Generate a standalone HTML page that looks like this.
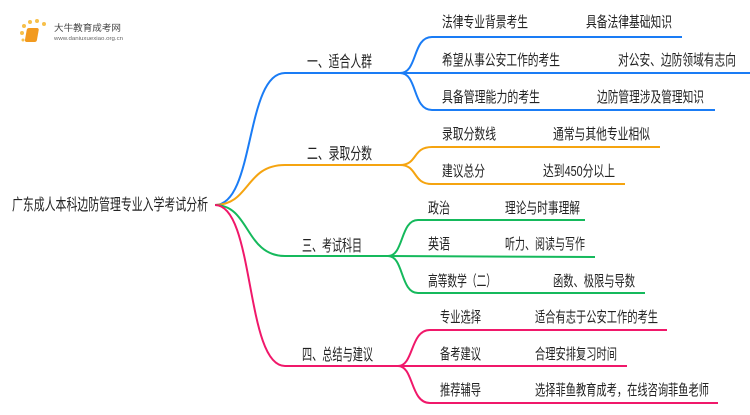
<!DOCTYPE html>
<html><head><meta charset="utf-8"><style>
body{margin:0;width:750px;height:410px;background:#fff;overflow:hidden;font-family:"Liberation Sans","Noto Sans CJK SC",sans-serif;}
svg text{font-family:"Liberation Sans","Noto Sans CJK SC",sans-serif;font-size:15px;fill:#222;}
</style></head><body>
<svg width="750" height="410" xmlns="http://www.w3.org/2000/svg">
<g>
<circle cx="24" cy="26" r="2" fill="#f7c04a"/><circle cx="30" cy="22" r="2" fill="#f7c04a"/><circle cx="37" cy="21" r="2" fill="#f7c04a"/><circle cx="44" cy="24" r="2" fill="#f7c04a"/><circle cx="22" cy="33" r="2" fill="#f7c04a"/><circle cx="23" cy="40" r="1.5" fill="#f7c04a"/>
<rect x="32" y="28" width="12" height="14" rx="2" fill="#f29a1f" transform="skewX(-10)"/>
<text x="54" y="31" textLength="67" lengthAdjust="spacingAndGlyphs" style="font-size:9px;fill:#444">大牛教育成考网</text>
<text x="54" y="40" textLength="69" lengthAdjust="spacingAndGlyphs" style="font-size:5px;fill:#666">www.daniuxuexiao.org.cn</text>
</g>
<text x="12" y="210" textLength="196" lengthAdjust="spacingAndGlyphs" style="font-size:16px">广东成人本科边防管理专业入学考试分析</text>
<g fill="none" stroke-width="2">
<path d="M215 205 C255 205 245 73 285 73 L400 73" stroke="#1a7cf5"/>
<path d="M215 205 C250 205 245 165 285 165 L400 165" stroke="#f5a410"/>
<path d="M215 205 C250 205 245 256 285 256 L388 256" stroke="#15b95c"/>
<path d="M215 205 C255 205 245 366 285 366 L398 366" stroke="#f0186a"/>
<path d="M400 73 C418 73 412 37 432 37 L682 37" stroke="#1a7cf5"/>
<path d="M400 73 L750 73" stroke="#1a7cf5"/>
<path d="M400 73 C418 73 412 110 432 110 L715 110" stroke="#1a7cf5"/>
<path d="M400 165 C418 165 412 147 432 147 L660 147" stroke="#f5a410"/>
<path d="M400 165 C418 165 412 184 432 184 L625 184" stroke="#f5a410"/>
<path d="M388 256 C404 256 400 220 418 220 L585 220" stroke="#15b95c"/>
<path d="M388 256 L595 257" stroke="#15b95c"/>
<path d="M388 256 C404 256 400 293 418 293 L645 293" stroke="#15b95c"/>
<path d="M398 366 C414 366 410 330 430 330 L667 330" stroke="#f0186a"/>
<path d="M398 366 L627 366" stroke="#f0186a"/>
<path d="M398 366 C414 366 410 403 430 403 L718 403" stroke="#f0186a"/>
</g>
<text x="307" y="67" textLength="65" lengthAdjust="spacingAndGlyphs" style="font-size:16px">一、适合人群</text>
<text x="307" y="159" textLength="65" lengthAdjust="spacingAndGlyphs" style="font-size:16px">二、录取分数</text>
<text x="302" y="251" textLength="60" lengthAdjust="spacingAndGlyphs" style="font-size:16px">三、考试科目</text>
<text x="302" y="360" textLength="71" lengthAdjust="spacingAndGlyphs" style="font-size:16px">四、总结与建议</text>
<text x="442" y="27" textLength="86" lengthAdjust="spacingAndGlyphs">法律专业背景考生</text><text x="586" y="27" textLength="86" lengthAdjust="spacingAndGlyphs">具备法律基础知识</text>
<text x="442" y="65" textLength="118" lengthAdjust="spacingAndGlyphs">希望从事公安工作的考生</text><text x="618" y="65" textLength="118" lengthAdjust="spacingAndGlyphs">对公安、边防领域有志向</text>
<text x="442" y="102" textLength="98" lengthAdjust="spacingAndGlyphs">具备管理能力的考生</text><text x="597" y="102" textLength="107" lengthAdjust="spacingAndGlyphs">边防管理涉及管理知识</text>
<text x="442" y="139" textLength="54" lengthAdjust="spacingAndGlyphs">录取分数线</text><text x="553" y="139" textLength="97" lengthAdjust="spacingAndGlyphs">通常与其他专业相似</text>
<text x="442" y="176" textLength="43" lengthAdjust="spacingAndGlyphs">建议总分</text><text x="543" y="176" textLength="72" lengthAdjust="spacingAndGlyphs">达到450分以上</text>
<text x="428" y="213" textLength="22" lengthAdjust="spacingAndGlyphs">政治</text><text x="505" y="213" textLength="75" lengthAdjust="spacingAndGlyphs">理论与时事理解</text>
<text x="428" y="249" textLength="22" lengthAdjust="spacingAndGlyphs">英语</text><text x="505" y="249" textLength="80" lengthAdjust="spacingAndGlyphs">听力、阅读与写作</text>
<text x="428" y="286" textLength="68" lengthAdjust="spacingAndGlyphs">高等数学（二）</text><text x="553" y="286" textLength="82" lengthAdjust="spacingAndGlyphs">函数、极限与导数</text>
<text x="440" y="322" textLength="41" lengthAdjust="spacingAndGlyphs">专业选择</text><text x="535" y="322" textLength="123" lengthAdjust="spacingAndGlyphs">适合有志于公安工作的考生</text>
<text x="440" y="359" textLength="41" lengthAdjust="spacingAndGlyphs">备考建议</text><text x="535" y="359" textLength="82" lengthAdjust="spacingAndGlyphs">合理安排复习时间</text>
<text x="440" y="395" textLength="41" lengthAdjust="spacingAndGlyphs">推荐辅导</text><text x="535" y="395" textLength="174" lengthAdjust="spacingAndGlyphs">选择菲鱼教育成考，在线咨询菲鱼老师</text>
</svg>
</body></html>
